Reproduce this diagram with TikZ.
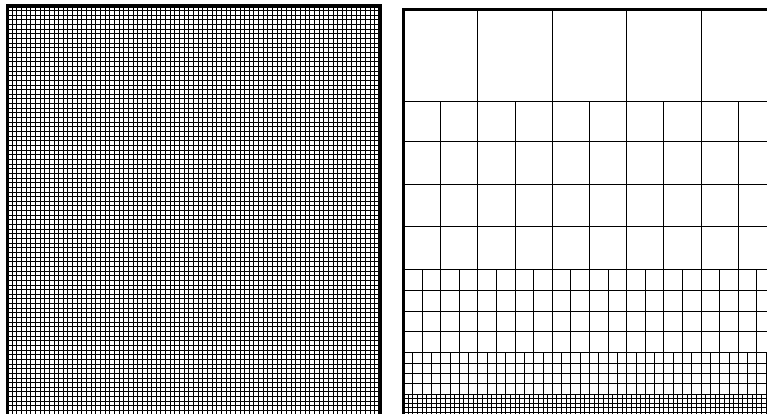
\documentclass[tikz,border=0pt]{standalone}
\begin{document}
\begin{tikzpicture}[x=1pt,y=-1pt,
  gridline/.style={line width=1pt},
  frame/.style={line width=3.6pt}]
\useasboundingbox (0,0) rectangle (767,414);
\clip (0,0) rectangle (767,414);
% uniform mesh
\foreach \k in {1,...,79}
  \draw[gridline] (7.5+4.65*\k,6) -- (7.5+4.65*\k,420);
\foreach \k in {1,...,88}
  \draw[gridline] (7.5,6+4.65*\k) -- (379.7,6+4.65*\k);
\draw[frame] (7.5,420) -- (7.5,6) -- (379.7,6) -- (379.7,420);
% graded mesh
\foreach \n/\ya/\yb in {5/9.5/101.3,10/101.3/269.3,20/269.3/352.7,40/352.7/394,80/394/420}
  \foreach \k in {1,...,\n}
    \draw[gridline] (403.5+372/\n*\k,\ya) -- (403.5+372/\n*\k,\yb);
\foreach \y in {101.3,142,184.3,226.5,269.3,290.15,311,331.85,352.7,363.03,373.35,383.68,394,398.65,403.3,407.95,412.6}
  \draw[gridline] (403.5,\y) -- (780,\y);
\draw[frame] (403.5,420) -- (403.5,9.5) -- (780,9.5);
\end{tikzpicture}
\end{document}
